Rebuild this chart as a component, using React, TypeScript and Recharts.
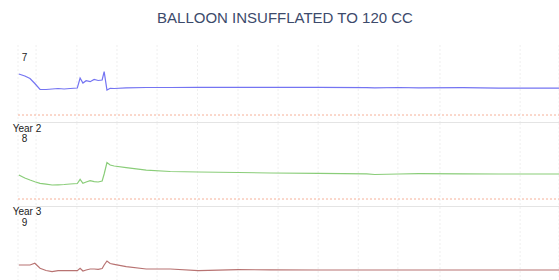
import React from 'react';
import { LineChart, Line, XAxis, YAxis, CartesianGrid, ReferenceLine } from 'recharts';

const TITLE = 'BALLOON INSUFFLATED TO 120 CC';

// time (s)
const TIME = [
  0.2, 1.7, 3.0, 4.2, 5.5, 7.0, 8.5, 10.0, 11.5, 13.0, 14.8, 15.5, 16.2, 17.0, 18.0, 19.0,
  20.0, 21.0, 21.5, 22.2, 23.0, 24.0, 27.0, 32.0, 38.0, 45.0, 55.0, 63.0, 75.0, 87.0, 89.0,
  95.0, 100.0, 111.0, 120.0, 135.0,
];

// Panel "7" (blue)
const SERIES_7 = [
  41, 39, 36.5, 31.5, 25.5, 25.5, 26, 26.5, 26, 26.5, 27, 37, 32, 34.3, 33.3, 35.5,
  34.5, 35, 43.3, 25, 26.7, 26.5, 27.2, 27.5, 27.5, 27.6, 27.7, 27.6, 27.6, 27.3, 27.1,
  27.5, 27.2, 27.4, 26.9, 26.8,
];

// Panel "Year 2 / 8" (green)
const SERIES_8 = [
  24, 21, 19, 17.3, 15.7, 14.8, 14, 14.2, 14.5, 15, 15.5, 19.7, 15.7, 17, 18.3, 17.3,
  17, 18, 25, 36.5, 34, 33, 31.3, 28.8, 27.5, 27, 26.5, 26, 25.6, 25.2, 24.5,
  25, 25.3, 25.2, 25, 25,
];

// Panel "Year 3 / 9" (red)
const SERIES_9 = [
  18, 18, 18, 19.7, 14.7, 12.5, 11.3, 12.3, 12.3, 12.3, 12.3, 14.7, 12, 13, 14, 14,
  13.7, 14.5, 18, 22, 19.5, 18.7, 16.3, 14, 14, 12.3, 13.3, 13.2, 13, 13, 13,
  13, 13, 13, 13, 13,
];

const GRID_TICKS = [4.5, 14.7, 24.7, 34.7, 44.8, 54.9, 64.9, 74.9, 84.9, 94.8, 105.3, 115.3, 125.3];

const PANEL_LABELS: string[][] = [['7'], ['Year 2', '8'], ['Year 3', '9']];

const FONT = '"Liberation Sans", Arial, Helvetica, sans-serif';

type PanelProps = { values: number[]; color: string; top: number; height: number };

function Panel({ values, color, top, height }: PanelProps) {
  const data = TIME.map((t, i) => ({ t, v: values[i] }));
  return (
    <div style={{ position: 'absolute', left: 0, top, width: 559, height }}>
      <LineChart width={559} height={height} data={data} margin={{ top: 0, right: 0, bottom: 0, left: 18 }}>
        <CartesianGrid horizontal={false} stroke="#efefef" strokeDasharray="2 2" />
        <XAxis type="number" dataKey="t" domain={[0, 135]} ticks={GRID_TICKS} allowDataOverflow hide />
        <YAxis type="number" domain={[-8, height - 8]} allowDataOverflow hide />
        <ReferenceLine y={0} stroke="#f6b098" strokeDasharray="2 2" />
        <ReferenceLine y={-8} stroke="#e4e4e4" strokeWidth={2} />
        <Line
          type="linear"
          dataKey="v"
          stroke={color}
          strokeWidth={1.2}
          dot={false}
          isAnimationActive={false}
        />
      </LineChart>
    </div>
  );
}

export default function App() {
  return (
    <div
      style={{
        position: 'absolute',
        left: 0,
        top: 0,
        width: 559,
        height: 280,
        overflow: 'hidden',
        background: '#fff',
      }}
    >
      <Panel values={SERIES_7} color="#7474f2" top={45} height={78} />
      <Panel values={SERIES_8} color="#8acd79" top={123} height={84} />
      <Panel values={SERIES_9} color="#b87372" top={207} height={84} />
      <svg
        width={559}
        height={280}
        style={{ position: 'absolute', left: 0, top: 0, pointerEvents: 'none' }}
      >
        <text x={285} y={22.5} textAnchor="middle" fontSize={15} fill="#3c4a6b" fontFamily={FONT}>
          {TITLE}
        </text>
        <text x={24.5} y={60.5} textAnchor="middle" fontSize={10} fill="#222" fontFamily={FONT}>
          {PANEL_LABELS[0][0]}
        </text>
        <text x={12.7} y={132} fontSize={10} fill="#222" fontFamily={FONT}>
          {PANEL_LABELS[1][0]}
        </text>
        <text x={24.5} y={142} textAnchor="middle" fontSize={10} fill="#222" fontFamily={FONT}>
          {PANEL_LABELS[1][1]}
        </text>
        <text x={12.7} y={215.3} fontSize={10} fill="#222" fontFamily={FONT}>
          {PANEL_LABELS[2][0]}
        </text>
        <text x={24.5} y={226} textAnchor="middle" fontSize={10} fill="#222" fontFamily={FONT}>
          {PANEL_LABELS[2][1]}
        </text>
      </svg>
    </div>
  );
}
